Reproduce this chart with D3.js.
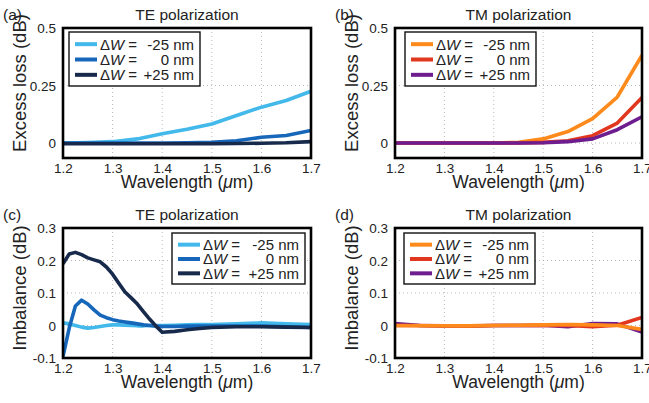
<!DOCTYPE html>
<html><head><meta charset="utf-8">
<script src="https://cdn.jsdelivr.net/npm/d3@7"></script>
<style>
html,body{margin:0;padding:0;background:#fff;}
svg{display:block;font-family:"Liberation Sans",Arial,Helvetica,sans-serif;}
</style></head>
<body>
<svg id="chart" width="649" height="403"></svg>
<script>
// ---------- data ----------
const wavelengths = [1.20,1.25,1.30,1.35,1.40,1.45,1.50,1.55,1.60,1.65,1.70];
const wavelengthsTEimb = [1.20,1.2125,1.225,1.2375,1.25,1.2625,1.275,1.2875,1.30,1.3125,1.325,1.3375,1.35,1.3625,1.375,1.3875,1.40,1.425,1.45,1.475,1.50,1.55,1.60,1.65,1.70];

const teLossM25 = [0.000,0.002,0.006,0.018,0.040,0.060,0.083,0.120,0.156,0.185,0.225];
const teLoss0   = [0.000,0.000,0.000,0.000,0.000,0.001,0.003,0.010,0.025,0.033,0.055];
const teLossP25 = [-0.003,-0.003,-0.003,-0.003,-0.003,-0.003,-0.003,-0.002,-0.001,0.001,0.006];

const tmLossM25 = [0.000,0.000,0.000,0.000,0.000,0.003,0.018,0.050,0.106,0.200,0.382];
const tmLoss0   = [0.000,0.000,0.000,0.000,0.000,0.000,0.003,0.010,0.032,0.087,0.198];
const tmLossP25 = [0.000,0.000,0.000,0.000,0.000,0.000,0.001,0.006,0.018,0.058,0.114];

const teImbM25 = [0.008,0.005,0.000,-0.005,-0.008,-0.006,-0.003,0.000,0.002,0.002,0.001,0.000,-0.001,-0.001,0.000,0.000,0.000,0.001,0.002,0.003,0.003,0.005,0.008,0.005,0.003];
const teImb0   = [-0.095,-0.008,0.060,0.078,0.066,0.048,0.032,0.024,0.018,0.014,0.011,0.008,0.005,0.002,0.000,-0.002,-0.003,-0.003,-0.002,-0.002,-0.002,-0.002,-0.002,-0.004,-0.006];
const teImbP25 = [0.190,0.220,0.225,0.218,0.208,0.202,0.196,0.180,0.158,0.130,0.103,0.085,0.066,0.042,0.019,-0.002,-0.021,-0.018,-0.013,-0.009,-0.006,-0.004,-0.004,-0.005,-0.006];

const tmImbM25 = [0.000,-0.001,-0.001,-0.001,0.000,0.001,0.002,0.003,0.002,0.000,-0.012];
const tmImb0   = [0.000,0.000,-0.001,-0.001,0.000,0.000,0.001,0.000,-0.004,0.001,0.025];
const tmImbP25 = [0.006,0.000,-0.002,-0.002,0.000,0.000,0.001,-0.004,0.006,0.005,-0.020];

const xTicks = [1.2,1.3,1.4,1.5,1.6,1.7];
const lossTicks = [0,0.25,0.5];
const imbTicks = [-0.1,0,0.1,0.2,0.3];
const legendValues = ["-25 nm","0 nm","+25 nm"];
const teColors = ["#43b8ea","#1666b9","#172a4c"];
const tmColors = ["#ff8a1c","#e2371f","#6e1d8f"];

// ---------- drawing ----------
const svg = d3.select("#chart");
const font = "\"Liberation Sans\",Arial,Helvetica,sans-serif";

const panels = [
  {id:"a", title:"TE polarization", ylabel:"Excess loss (dB)", x0:63, x1:311, y0:28, y1:158,
   ydom:[-0.065,0.5], yticks:lossTicks, yfmt:d=>d===0?"0":String(d), xs:[wavelengths,wavelengths,wavelengths],
   series:[teLossM25,teLoss0,teLossP25], colors:teColors, order:[0,1,2], leg:{x:69,y:32,w:131,h:54}, ylabCx:83},
  {id:"b", title:"TM polarization", ylabel:"Excess loss (dB)", x0:395, x1:642, y0:28, y1:158,
   ydom:[-0.065,0.5], yticks:lossTicks, yfmt:d=>d===0?"0":String(d), xs:[wavelengths,wavelengths,wavelengths],
   series:[tmLossM25,tmLoss0,tmLossP25], colors:tmColors, order:[0,1,2], leg:{x:405,y:32,w:131,h:54}, ylabCx:83},
  {id:"c", title:"TE polarization", ylabel:"Imbalance (dB)", x0:63, x1:311, y0:228, y1:358,
   ydom:[-0.1,0.3], yticks:imbTicks, yfmt:d=>d===0?"0":String(d), xs:[wavelengthsTEimb,wavelengthsTEimb,wavelengthsTEimb],
   series:[teImbM25,teImb0,teImbP25], colors:teColors, order:[0,1,2], leg:{x:172,y:233,w:133,h:51}, ylabCx:288},
  {id:"d", title:"TM polarization", ylabel:"Imbalance (dB)", x0:395, x1:642, y0:228, y1:358,
   ydom:[-0.1,0.3], yticks:imbTicks, yfmt:d=>d===0?"0":String(d), xs:[wavelengths,wavelengths,wavelengths],
   series:[tmImbM25,tmImb0,tmImbP25], colors:tmColors, order:[2,1,0], leg:{x:404,y:233,w:131,h:51}, ylabCx:288}
];

panels.forEach(p => {
  const x = d3.scaleLinear().domain([1.2,1.7]).range([p.x0,p.x1]);
  const y = d3.scaleLinear().domain(p.ydom).range([p.y1,p.y0]);
  const g = svg.append("g");

  // clip
  const clipId = "clip-"+p.id;
  svg.append("clipPath").attr("id",clipId).append("rect")
    .attr("x",p.x0).attr("y",p.y0).attr("width",p.x1-p.x0).attr("height",p.y1-p.y0);

  // grid
  g.append("g").selectAll("line").data(xTicks).join("line")
    .attr("x1",d=>x(d)).attr("x2",d=>x(d)).attr("y1",p.y0).attr("y2",p.y1)
    .attr("stroke","#b8b8b8").attr("stroke-width",1).attr("stroke-dasharray","1,3");
  g.append("g").selectAll("line").data(p.yticks).join("line")
    .attr("x1",p.x0).attr("x2",p.x1).attr("y1",d=>y(d)).attr("y2",d=>y(d))
    .attr("stroke","#b8b8b8").attr("stroke-width",1).attr("stroke-dasharray","1,3");

  // axes (labels only)
  const xAxis = d3.axisBottom(x).tickValues(xTicks).tickSize(0).tickPadding(0).tickFormat(d3.format(".1f"));
  const xa = g.append("g").attr("transform",`translate(0,${p.y1})`).call(xAxis);
  xa.select(".domain").remove();
  xa.selectAll("text").attr("y",15).attr("dy",0).attr("font-size",13.5).attr("font-family",font).attr("fill","#222");

  const yAxis = d3.axisLeft(y).tickValues(p.yticks).tickSize(0).tickPadding(7).tickFormat(p.yfmt);
  const ya = g.append("g").attr("transform",`translate(${p.x0},0)`).call(yAxis);
  ya.select(".domain").remove();
  ya.selectAll("text").attr("font-size",13.5).attr("font-family",font).attr("fill","#222").attr("dy","0.36em");

  // lines
  const lg = g.append("g").attr("clip-path",`url(#${clipId})`);
  p.order.forEach(i => {
    const xs = p.xs[i];
    const line = d3.line().x((d,k)=>x(xs[k])).y(d=>y(d));
    lg.append("path").datum(p.series[i]).attr("d",line)
      .attr("fill","none").attr("stroke",p.colors[i]).attr("stroke-width",3.6)
      .attr("stroke-linejoin","round").attr("stroke-linecap","butt");
  });

  // frame
  g.append("rect").attr("x",p.x0).attr("y",p.y0).attr("width",p.x1-p.x0).attr("height",p.y1-p.y0)
    .attr("fill","none").attr("stroke","#000").attr("stroke-width",2.6);

  // legend
  const L = p.leg;
  const lgd = g.append("g");
  lgd.append("rect").attr("x",L.x).attr("y",L.y).attr("width",L.w).attr("height",L.h)
    .attr("fill","#fff").attr("stroke","#111").attr("stroke-width",1.4);
  const rowH = (L.h-8)/3;
  legendValues.forEach((v,i) => {
    const cy = L.y + 4 + rowH*(i+0.5) + 0.5;
    lgd.append("line").attr("x1",L.x+6).attr("x2",L.x+28).attr("y1",cy).attr("y2",cy)
      .attr("stroke",p.colors[i]).attr("stroke-width",4);
    const t = lgd.append("text").attr("x",L.x+31).attr("y",cy).attr("dy","0.36em")
      .attr("font-size",15).attr("font-family",font).attr("fill","#222");
    t.append("tspan").text("Δ");
    t.append("tspan").attr("font-style","italic").text("W");
    t.append("tspan").text(" =");
    lgd.append("text").attr("x",L.x+L.w-6).attr("y",cy).attr("dy","0.36em").attr("text-anchor","end")
      .attr("font-size",15).attr("font-family",font).attr("fill","#222").text(v);
  });

  // title
  g.append("text").attr("x",(p.x0+p.x1)/2).attr("y",p.y0-8).attr("text-anchor","middle")
    .attr("font-size",15.5).attr("font-family",font).attr("fill","#222").text(p.title);
  // panel letter
  g.append("text").attr("x",p.x0-60).attr("y",p.y0-8)
    .attr("font-size",15.5).attr("font-family",font).attr("fill","#222").text("("+p.id+")");
  // x label
  const xl = g.append("text").attr("x",(p.x0+p.x1)/2).attr("y",p.y1+30).attr("text-anchor","middle")
    .attr("font-size",17.5).attr("font-family",font).attr("fill","#222");
  xl.append("tspan").text("Wavelength (");
  xl.append("tspan").attr("font-style","italic").text("μ");
  xl.append("tspan").text("m)");
  // y label
  g.append("text").attr("transform",`translate(${p.x0-37},${p.ylabCx}) rotate(-90)`).attr("text-anchor","middle")
    .attr("font-size",18.5).attr("font-family",font).attr("fill","#222").text(p.ylabel);
});
</script>
</body></html>
